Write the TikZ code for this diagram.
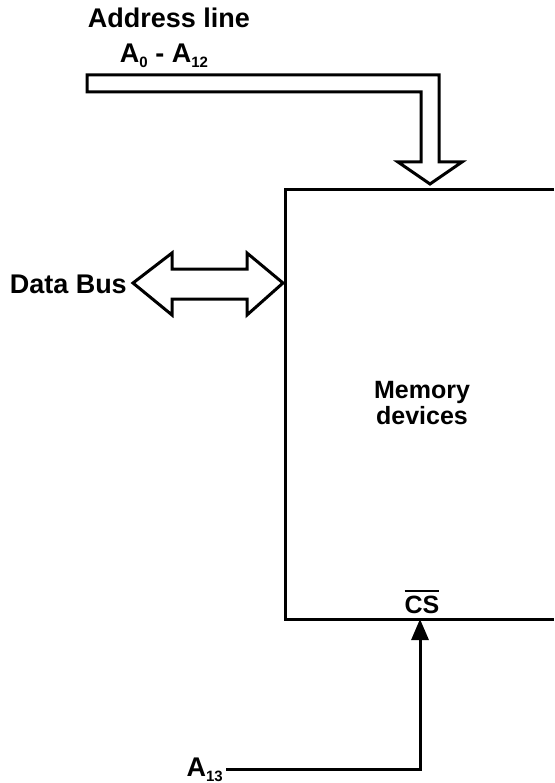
\documentclass[tikz,border=0pt]{standalone}
\usepackage{fontspec}
\setmainfont{Liberation Sans}
\usetikzlibrary{arrows.meta}
\newcommand{\lowidx}[1]{\raisebox{-5pt}{\fontsize{15}{15}\selectfont #1}}
\newcommand{\notbar}[1]{\vbox{\hrule height 2pt\kern 4pt\hbox{#1}}}

\begin{document}
\begin{tikzpicture}[x=1pt,y=-1pt,
    label/.style={font=\fontsize{27}{28}\selectfont\bfseries,inner sep=0pt},
    small label/.style={label,font=\fontsize{25}{26}\selectfont\bfseries},
    wire/.style={line width=3pt},
    bus/.style={line width=3pt,line join=miter,fill=white}]
  \useasboundingbox (0,0) rectangle (554,783);
  \node [label,anchor=base] (addr) at (169,28) {Address line};
  \node [label,anchor=base] (range) at (164,63) {A\lowidx{0} - A\lowidx{12}};
  \node [label,anchor=base east] (data) at (127,293) {Data Bus};
  \node [small label,align=center] (mem) at (422,403) {Memory\\devices};
  \node [small label,anchor=base] (cs) at (422,613) {\notbar{CS}};
  \node [label,inner xsep=3pt,anchor=base east] (a13) at (226,776) {A\lowidx{13}};
  \coordinate (memtr) at (554,190);
  \coordinate (memtl) at (285,190);
  \coordinate (membl) at (285,619);
  \coordinate (membr) at (554,619);
  \coordinate (csin) at (420,619);
  \draw [wire] (memtr) -- (memtl) -- (membl) -- (membr);
  \draw [bus] (87,75) -- (439,75) -- (439,162) -- (462,162) -- (430,184)
    -- (398,162) -- (421,162) -- (421,92) -- (87,92) -- cycle;
  \draw [bus] (133,283) -- (172,253) -- (172,269) -- (247,269) -- (247,253)
    -- (283,283) -- (247,315) -- (247,299) -- (172,299) -- (172,315) -- cycle;
  \draw [wire,-{Triangle[length=21pt,width=17pt]}] (a13.east) -| (csin);
\end{tikzpicture}
\end{document}
